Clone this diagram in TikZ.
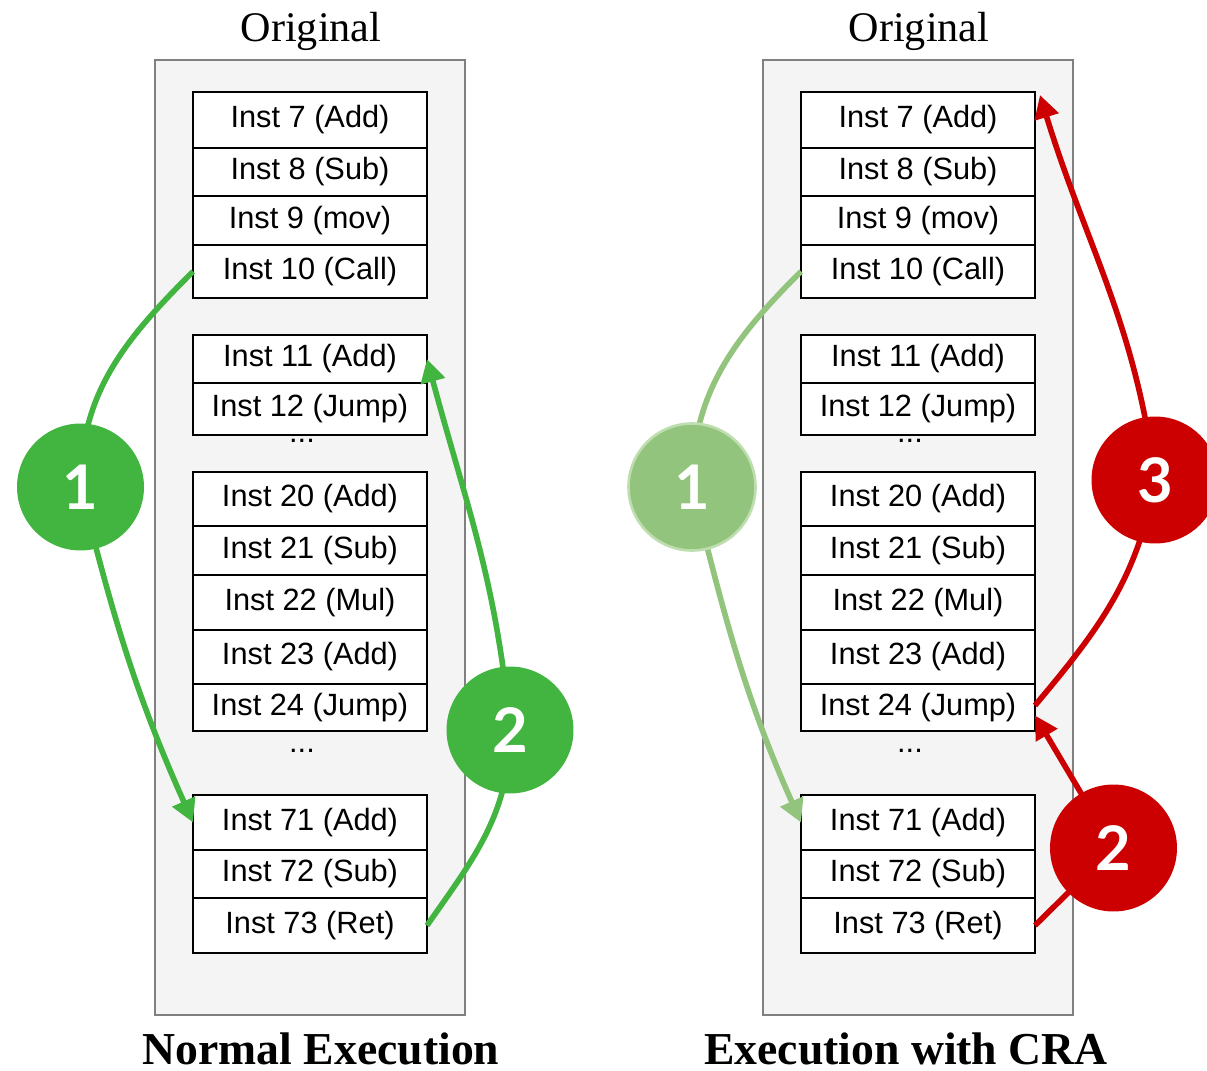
\documentclass[tikz,border=0pt]{standalone}
\usepackage{fontspec}
\setmainfont{Liberation Serif}
\setsansfont{Liberation Sans}
\newfontfamily\numfont{Lato}
\usetikzlibrary{arrows.meta,positioning,calc}
\definecolor{cragreen}{RGB}{66,180,64}
\definecolor{cralight}{RGB}{147,196,125}
\definecolor{cralightrim}{RGB}{190,222,176}
\definecolor{crared}{RGB}{204,0,0}
\definecolor{panelgray}{RGB}{244,244,244}
\definecolor{panelline}{RGB}{128,128,128}

\begin{document}
\begin{tikzpicture}[x=0.02cm, y=-0.02cm, >={Triangle[length=0.46cm,width=0.48cm]}]
    \tikzset{
        inst/.style={draw, fill=white, line width=1.4pt, outer sep=0pt, minimum width=4.68cm, inner sep=0pt, font=\sffamily\fontsize{17.5}{20}\selectfont},
        dots/.style={anchor=base, inner sep=0pt, font=\sffamily\fontsize{17.5}{20}\selectfont},
        panel/.style={draw=panelline, fill=panelgray, line width=1.1pt, minimum width=6.2cm, minimum height=19.1cm, inner sep=0pt},
        badge/.style={circle, minimum size=2.54cm, inner sep=0pt, text=white, font=\numfont\bfseries\fontsize{35}{35}\selectfont},
        flow/.style={line width=3.2pt}
    }
    \useasboundingbox (0,0) rectangle (1207,1071);

    % the two listings, side by side
    \foreach \px/\p/\tx/\paneltitle in {0/L/321/Normal Execution, 608/R/906/Execution with CRA} {
        \node [panel] (\p-panel) at (310+\px, 537.5) {};
        \node [anchor=base, inner sep=0pt, font=\fontsize{24}{24}\selectfont] (\p-orig) at (311+\px, 42) {Original};
        \node [anchor=base, inner sep=0pt, font=\bfseries\fontsize{26}{26}\selectfont] (\p-title) at (\tx, 1064) {\paneltitle};

        \node [inst, minimum height=1.12cm, anchor=north] (\p-7) at (310+\px, 92) {Inst 7 (Add)};
        \node [inst, minimum height=0.96cm, below=0pt of \p-7] (\p-8) {Inst 8 (Sub)};
        \node [inst, minimum height=0.98cm, below=0pt of \p-8] (\p-9) {Inst 9 (mov)};
        \node [inst, minimum height=1.06cm, below=0pt of \p-9] (\p-10) {Inst 10 (Call)};

        \node [inst, minimum height=0.96cm, anchor=north] (\p-11) at (310+\px, 335) {Inst 11 (Add)};
        \node [inst, minimum height=1.04cm, below=0pt of \p-11] (\p-12) {Inst 12 (Jump)};
        \node [dots] (\p-dots1) at (302+\px, 442) {...};

        \node [inst, minimum height=1.08cm, anchor=north] (\p-20) at (310+\px, 472) {Inst 20 (Add)};
        \node [inst, minimum height=0.98cm, below=0pt of \p-20] (\p-21) {Inst 21 (Sub)};
        \node [inst, minimum height=1.10cm, below=0pt of \p-21] (\p-22) {Inst 22 (Mul)};
        \node [inst, minimum height=1.08cm, below=0pt of \p-22] (\p-23) {Inst 23 (Add)};
        \node [inst, minimum height=0.94cm, below=0pt of \p-23] (\p-24) {Inst 24 (Jump)};
        \node [dots] (\p-dots2) at (302+\px, 752) {...};

        \node [inst, minimum height=1.10cm, anchor=north] (\p-71) at (310+\px, 795) {Inst 71 (Add)};
        \node [inst, minimum height=0.96cm, below=0pt of \p-71] (\p-72) {Inst 72 (Sub)};
        \node [inst, minimum height=1.10cm, below=0pt of \p-72] (\p-73) {Inst 73 (Ret)};
    }

    % where the step markers sit
    \coordinate (L-c1) at (80.5, 487);
    \coordinate (L-c2) at (510, 730);
    \coordinate (R-c1) at (692, 487);
    \coordinate (R-c2) at (1113.5, 848);
    \coordinate (R-c3) at (1155, 480);

    % normal execution
    \draw [flow, cragreen] (L-10.west) to [out=225, in=90] (L-c1);
    \draw [flow, cragreen, ->] (L-c1) to [out=-76, in=114] (L-71.west);
    \draw [flow, cragreen] (L-73.east) to [out=55, in=-90] (L-c2);
    \draw [flow, cragreen, ->] (L-c2) to [out=95, in=-75] (L-11.east);

    % execution with CRA
    \draw [flow, cralight] (R-10.west) to [out=225, in=90] (R-c1);
    \draw [flow, cralight, ->] (R-c1) to [out=-76, in=114] (R-71.west);
    \draw [flow, crared] (R-73.east) -- (R-c2);
    \draw [flow, crared, ->] (R-c2) -- ([yshift=-0.16cm]R-24.east);
    \draw [flow, crared] ([yshift=0.04cm]R-24.east) to [out=50, in=-100] (R-c3);
    \draw [flow, crared, ->] (R-c3) to [out=97, in=-73] ([shift={(5,3)}]R-7.north east);

    \node [badge, fill=cragreen] (L-one) at (L-c1) {1};
    \node [badge, fill=cragreen] (L-two) at (L-c2) {2};
    \node [badge, fill=cralight, draw=cralightrim, line width=1.5pt] (R-one) at (R-c1) {1};
    \node [badge, fill=crared] (R-two) at (R-c2) {2};
    \node [badge, fill=crared] (R-three) at (R-c3) {3};
\end{tikzpicture}
\end{document}
